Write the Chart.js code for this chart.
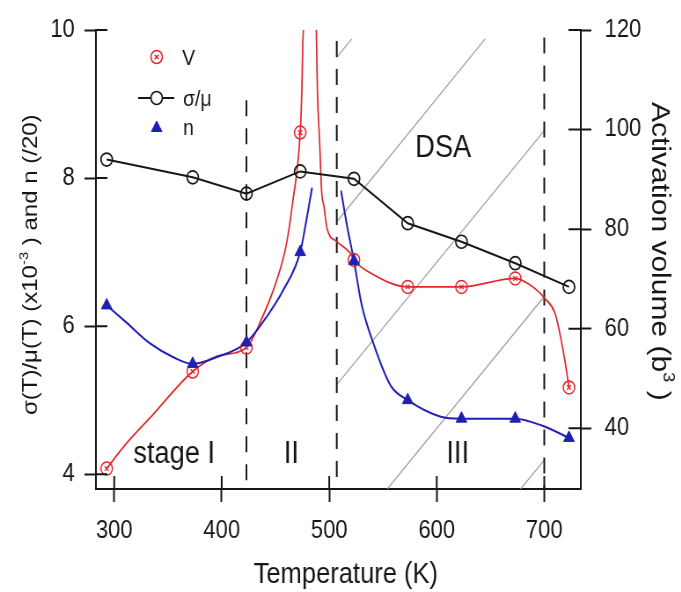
<!DOCTYPE html>
<html>
<head>
<meta charset="utf-8">
<script src="https://cdn.jsdelivr.net/npm/chart.js@4.4.1/dist/chart.umd.min.js"></script>
<style>
  html, body { margin: 0; padding: 0; background: #fff; overflow: hidden; }
  /* the original figure is a little narrower than its fonts, so squeeze it */
  #wrap { width: 774px; height: 592px; transform: scaleX(0.88); transform-origin: 0 0; }
</style>
</head>
<body>
<div id="wrap"><canvas id="chart"></canvas></div>
<script>
// measured temperatures (K)
const temps = [293, 373, 423, 473, 523, 573, 623, 673, 723];
// sigma/mu (x10^-3), left axis
const sigmaMu = [8.25, 8.01, 7.79, 8.09, 7.99, 7.39, 7.14, 6.85, 6.53];
// activation volume (b^3), right axis
const actVolume = [31.9, 51.4, 56.2, 99.4, 73.8, 68.4, 68.4, 70.1, 48.2];
// n (/20), left axis
const nValues = [6.28, 5.49, 5.78, 7.0, 6.88, 5.0, 4.75, 4.75, 4.49];

// guide curves, [T, value]
const vCurveLow = [[293, 31.9], [310, 36.6], [335, 42.5], [373, 51.4],
  [396, 54.5], [423, 56.2], [438, 62.4], [450, 69.0], [460, 76.8], [466, 85.4], [473, 99.4],
  [474.5, 107.7], [475.5, 118], [476, 120]];
const vCurveHigh = [[488, 120], [489, 107.7], [491, 97.9], [493, 87.4], [495, 84.7], [498, 80.1],
  [507, 77.5], [519.5, 75.2], [523, 73.8], [540, 71.0], [573, 68.4], [623, 68.4], [673, 70.1],
  [690, 68.3], [701, 66.0], [710, 63.1], [715, 58.5], [719.5, 53.2], [723, 48.2]];
const nCurveLow = [[293, 6.28], [312, 6.04], [333, 5.77], [355, 5.58], [373, 5.49], [395, 5.58],
  [423, 5.78], [442, 6.13], [457, 6.48], [473, 7.0], [479, 7.45], [484, 7.87]];
const nCurveHigh = [[511, 7.83], [516, 7.40], [523, 6.88], [530, 6.30], [541, 5.77], [557, 5.20],
  [573, 5.0], [603, 4.78], [623, 4.75], [673, 4.75], [699, 4.65], [723, 4.49]];

// stage borders (K) and where each dashed line starts (left axis)
const stageBorders = [423, 507, 700];
const stageBorderTops = [9.05, 9.85, 9.9];

// DSA hatching, pairs of [T, left axis value]
const dsaLines = [
  [[507, 9.63], [521, 9.88]],
  [[507, 7.41], [645, 9.88]],
  [[507, 5.21], [700, 8.64]],
  [[554, 3.8], [700, 6.4]],
  [[678, 3.8], [700, 4.19]]
];

const xTicks = [300, 400, 500, 600, 700];
const leftTicks = [4, 6, 8, 10];
const rightTicks = [40, 60, 80, 100, 120];

const stageLabels = ['stage I', 'II', 'III', 'DSA'];
const legendLabels = ['V', 'σ/μ', 'n'];

const FONT = "'Liberation Sans', Arial, sans-serif";
const RED = '#e3242b';
const BLUE = '#1f1fb4';
const INK = '#161616';

function pts(arr) {
  return arr.map(p => ({x: p[0], y: p[1]}));
}
function byTemp(vals) {
  return temps.map((t, i) => ({x: t, y: vals[i]}));
}

const datasets = [];

// hatching first so it sits underneath
dsaLines.forEach(l => {
  datasets.push({
    data: pts(l), yAxisID: 'y', borderColor: '#9c9c9c', borderWidth: 1.2,
    pointRadius: 0, order: 10
  });
});
stageBorders.forEach((t, i) => {
  datasets.push({
    data: [{x: t, y: stageBorderTops[i]}, {x: t, y: 3.8}], yAxisID: 'y',
    borderColor: INK, borderWidth: 2, borderDash: [16, 12], pointRadius: 0, order: 9
  });
});

[vCurveLow, vCurveHigh].forEach(c => {
  datasets.push({
    data: pts(c), yAxisID: 'y1', borderColor: RED, borderWidth: 1.7,
    pointRadius: 0, cubicInterpolationMode: 'monotone', order: 5
  });
});
[nCurveLow, nCurveHigh].forEach(c => {
  datasets.push({
    data: pts(c), yAxisID: 'y', borderColor: BLUE, borderWidth: 2,
    pointRadius: 0, cubicInterpolationMode: 'monotone', order: 4
  });
});

datasets.push({
  label: 'σ/μ', data: byTemp(sigmaMu), yAxisID: 'y', borderColor: INK, borderWidth: 2,
  pointStyle: 'circle', pointRadius: 6.5, pointBorderWidth: 1.7,
  pointBorderColor: INK, pointBackgroundColor: 'rgba(255,255,255,0)', order: 3
});
datasets.push({
  label: 'V', data: byTemp(actVolume), yAxisID: 'y1', showLine: false,
  pointStyle: 'circle', pointRadius: 6.5, pointBorderWidth: 1.5,
  pointBorderColor: RED, pointBackgroundColor: 'rgba(255,255,255,0)', order: 2
});
datasets.push({
  data: byTemp(actVolume), yAxisID: 'y1', showLine: false,
  pointStyle: 'crossRot', pointRadius: 3.2, pointBorderWidth: 1.3,
  pointBorderColor: RED, order: 2
});
datasets.push({
  label: 'n', data: byTemp(nValues), yAxisID: 'y', showLine: false,
  pointStyle: 'triangle', pointRadius: 7, pointBorderWidth: 1,
  pointBorderColor: BLUE, pointBackgroundColor: BLUE, order: 1
});

function fixedTicks(list) {
  return s => { s.ticks = list.map(v => ({value: v})); };
}

const tickFont = {family: FONT, size: 25};

// text with one superscript piece, laid along the current x direction
function drawSupText(ctx, parts, size) {
  let x = 0;
  parts.forEach(p => {
    const sz = p.sup ? size * 0.62 : size;
    ctx.font = sz + 'px ' + FONT;
    ctx.fillText(p.t, x, p.sup ? -size * 0.42 : 0);
    x += ctx.measureText(p.t).width;
  });
}

const decor = {
  id: 'decor',
  afterDraw(chart) {
    const {ctx, chartArea: a} = chart;
    const {x, y, y1} = chart.scales;
    ctx.save();

    // the inner half of every tick mark
    ctx.strokeStyle = INK;
    ctx.lineWidth = 2;
    ctx.beginPath();
    xTicks.forEach(v => {
      const px = x.getPixelForValue(v);
      ctx.moveTo(px, a.bottom); ctx.lineTo(px, a.bottom - 13);
    });
    leftTicks.forEach(v => {
      const py = y.getPixelForValue(v);
      ctx.moveTo(a.left, py); ctx.lineTo(a.left + 13, py);
    });
    rightTicks.forEach(v => {
      const py = y1.getPixelForValue(v);
      ctx.moveTo(a.right, py); ctx.lineTo(a.right - 14, py);
    });
    ctx.stroke();

    // stage labels
    ctx.fillStyle = INK;
    ctx.textAlign = 'center';
    ctx.textBaseline = 'alphabetic';
    ctx.font = '31px ' + FONT;
    const spots = [[355.8, 4.15], [464.7, 4.15], [619.5, 4.15], [606, 8.29]];
    stageLabels.forEach((s, i) => {
      ctx.fillText(s, x.getPixelForValue(spots[i][0]), y.getPixelForValue(spots[i][1]));
    });

    // legend
    const h = Chart.helpers;
    const mx = 178;
    ctx.fillStyle = '#fff';
    ctx.lineWidth = 1.5;
    ctx.strokeStyle = RED;
    h.drawPoint(ctx, {pointStyle: 'circle', radius: 6.5, borderWidth: 1.5}, mx, 57);
    h.drawPoint(ctx, {pointStyle: 'crossRot', radius: 3.2, borderWidth: 1.3}, mx, 57);
    ctx.strokeStyle = INK;
    ctx.lineWidth = 2;
    ctx.beginPath(); ctx.moveTo(157, 98); ctx.lineTo(198, 98); ctx.stroke();
    ctx.fillStyle = '#fff';
    ctx.lineWidth = 1.7;
    h.drawPoint(ctx, {pointStyle: 'circle', radius: 6.5, borderWidth: 1.7}, mx, 98);
    ctx.fillStyle = BLUE;
    ctx.strokeStyle = BLUE;
    ctx.lineWidth = 1;
    h.drawPoint(ctx, {pointStyle: 'triangle', radius: 7, borderWidth: 1}, mx, 128);

    ctx.fillStyle = INK;
    ctx.textAlign = 'left';
    ctx.font = '22px ' + FONT;
    ctx.fillText(legendLabels[0], 207, 65);
    ctx.fillText(legendLabels[1], 208, 106);
    ctx.fillText(legendLabels[2], 208, 135);

    // axis titles
    ctx.font = '29px ' + FONT;
    ctx.textAlign = 'center';
    ctx.fillText('Temperature (K)', 393, 583);

    ctx.textAlign = 'left';
    ctx.save();
    ctx.translate(42, 415);
    ctx.rotate(-Math.PI / 2);
    drawSupText(ctx, [{t: 'σ(T)/μ(T) (x10'}, {t: '-3', sup: true}, {t: ' ) and n (/20)'}], 24);
    ctx.restore();

    ctx.save();
    ctx.translate(741, 102);
    ctx.rotate(Math.PI / 2);
    drawSupText(ctx, [{t: 'Activation volume (b'}, {t: '3', sup: true}, {t: ' )'}], 30);
    ctx.restore();

    ctx.restore();
  }
};

new Chart(document.getElementById('chart'), {
  type: 'line',
  data: {datasets: datasets},
  plugins: [decor],
  options: {
    responsive: true,
    maintainAspectRatio: false,
    animation: false,
    events: [],
    layout: {padding: {top: 21, left: 0, right: 0, bottom: 0}},
    plugins: {legend: {display: false}, tooltip: {enabled: false}},
    elements: {line: {tension: 0}},
    scales: {
      x: {
        type: 'linear', min: 283, max: 734,
        afterBuildTicks: fixedTicks(xTicks),
        afterFit: s => { s.height = 103; },
        grid: {drawOnChartArea: false, tickLength: 13, tickWidth: 2, tickColor: INK},
        border: {color: INK, width: 2},
        ticks: {color: INK, font: tickFont, padding: 14, maxRotation: 0}
      },
      y: {
        position: 'left', min: 3.8, max: 10,
        afterBuildTicks: fixedTicks(leftTicks),
        afterFit: s => { s.width = 109; },
        grid: {drawOnChartArea: false, tickLength: 13, tickWidth: 2, tickColor: INK},
        border: {color: INK, width: 2},
        ticks: {color: INK, font: tickFont, padding: 11}
      },
      y1: {
        position: 'right', min: 27.8, max: 120,
        afterBuildTicks: fixedTicks(rightTicks),
        afterFit: s => { s.width = 114; },
        grid: {drawOnChartArea: false, tickLength: 12, tickWidth: 2, tickColor: INK},
        border: {color: INK, width: 2},
        ticks: {color: INK, font: tickFont, padding: 15}
      }
    }
  }
});
</script>
</body>
</html>
